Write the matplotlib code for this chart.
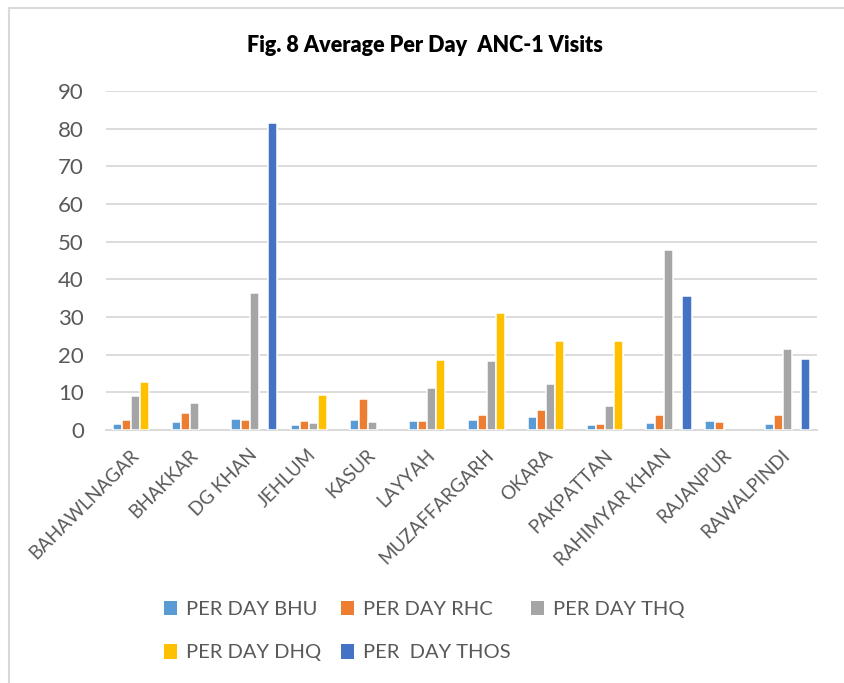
import numpy as np
import matplotlib
matplotlib.use('Agg')
import matplotlib.pyplot as plt
from matplotlib.lines import Line2D

plt.rcParams['font.family'] = ['Lato', 'DejaVu Sans']

districts = ['BAHAWLNAGAR', 'BHAKKAR', 'DG KHAN', 'JEHLUM', 'KASUR', 'LAYYAH',
             'MUZAFFARGARH', 'OKARA', 'PAKPATTAN', 'RAHIMYAR KHAN', 'RAJANPUR', 'RAWALPINDI']

# None = no bar for that district
bhu  = [1.6, 2.0, 2.8, 1.2, 2.6, 2.4, 2.6, 3.5, 1.4, 1.9, 2.4, 1.5]
rhc  = [2.7, 4.5, 2.7, 2.4, 8.3, 2.4, 3.9, 5.4, 1.6, 4.0, 2.0, 4.1]
thq  = [9.0, 7.1, 36.3, 1.9, 2.0, 11.1, 18.3, 12.3, 6.3, 47.7, None, 21.5]
dhq  = [12.8, None, None, 9.3, None, 18.6, 31.0, 23.7, 23.6, None, None, None]
thos = [None, None, 81.6, None, None, None, None, None, None, 35.7, None, 18.9]

series = [('PER DAY BHU', bhu, '#5B9BD5'),
          ('PER DAY RHC', rhc, '#ED7D31'),
          ('PER DAY THQ', thq, '#A5A5A5'),
          ('PER DAY DHQ', dhq, '#FFC000'),
          ('PER  DAY THOS', thos, '#4472C4')]

fig = plt.figure(figsize=(8.44, 6.83), dpi=100)
ax = fig.add_axes([106/844, 1-430/683, 711/844, 339/683])

x = np.arange(len(districts))
w = 0.153
bars = []
for i, (name, vals, col) in enumerate(series):
    v = np.array(vals, dtype=float)
    b = ax.bar(x + (i-2)*w, v, width=w, color=col, edgecolor='white', linewidth=1.1,
               label=name, zorder=3)
    bars.append(b)

ax.set_xlim(-0.5, len(districts)-0.5)
ax.set_ylim(0, 90)
ax.set_yticks(range(0, 91, 10))
ax.grid(axis='y', color='#d9d9d9', linewidth=1.3, zorder=0)
for s in ['top', 'right', 'left']:
    ax.spines[s].set_visible(False)
ax.spines['bottom'].set_color('#d9d9d9')
ax.spines['bottom'].set_linewidth(1.3)
ax.tick_params(axis='y', length=0, pad=16, labelsize=16, labelcolor='#595959')
ax.tick_params(axis='x', length=0, pad=16, labelcolor='#595959')
ax.set_xticks(x)
ax.set_xticklabels(districts, rotation=45, ha='right', va='center',
                   rotation_mode='anchor', fontsize=13.5)

fig.text(0.504, 1-45/683, 'Fig. 8 Average Per Day  ANC-1 Visits', ha='center',
         va='center', fontsize=15.5, fontweight='heavy', color='black')

# legend filled column-wise, so order it to read row by row like the original
order = [0, 3, 1, 4, 2]
leg = fig.legend([bars[k] for k in order], [series[k][0] for k in order],
                 loc='center', bbox_to_anchor=(424/844, 1-631/683), ncol=3, frameon=False,
                 fontsize=14.5, labelcolor='#595959', handlelength=0.65, handleheight=0.75,
                 handletextpad=0.45, columnspacing=1.0, labelspacing=1.3)
for h in leg.legend_handles:
    h.set_linewidth(0)

# chart area border (top and left visible)
fig.add_artist(Line2D([9/844, 9/844], [0, 1-8/683], transform=fig.transFigure,
                      color='#d9d9d9', linewidth=1.5))
fig.add_artist(Line2D([9/844, 1], [1-8/683, 1-8/683], transform=fig.transFigure,
                      color='#d9d9d9', linewidth=1.5))

fig.savefig('out.png', dpi=100)
